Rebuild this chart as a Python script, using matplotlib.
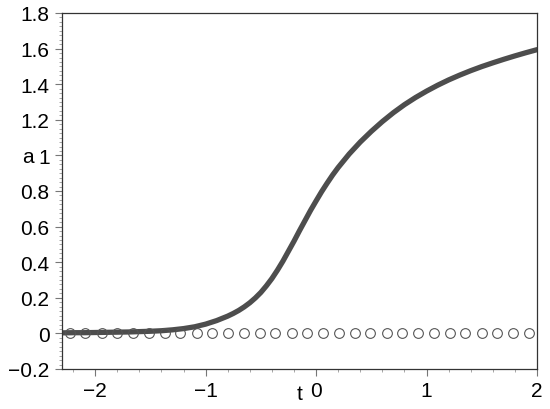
import numpy as np
import matplotlib
matplotlib.use("Agg")
from matplotlib import pyplot as plt
from matplotlib.ticker import MultipleLocator

#values
t_curve = [-2.3, -2.2, -2.1, -2.0, -1.9, -1.8, -1.7, -1.6, -1.5, -1.4, -1.3, -1.2,
           -1.1, -1.0, -0.9, -0.8, -0.75, -0.7, -0.65, -0.6, -0.55, -0.5, -0.45,
           -0.4, -0.35, -0.3, -0.25, -0.2, -0.15, -0.1, -0.05, 0.0, 0.05,
           0.1, 0.15, 0.2, 0.3, 0.4, 0.5, 0.6, 0.7, 0.8, 0.9, 1.0, 1.1, 1.2, 1.3, 1.4,
           1.5, 1.6, 1.7, 1.8, 1.9, 2.0]
a_curve = [0.003, 0.004, 0.004, 0.005, 0.006, 0.007, 0.008, 0.010, 0.012, 0.015, 0.020, 0.027,
           0.037, 0.052, 0.072, 0.097, 0.112, 0.129, 0.149, 0.172, 0.199, 0.230, 0.267,
           0.308, 0.355, 0.406, 0.462, 0.518, 0.577, 0.634, 0.691, 0.744, 0.796,
           0.844, 0.890, 0.932, 1.008, 1.075, 1.135, 1.190, 1.240, 1.285, 1.325, 1.361, 1.394, 1.424, 1.451, 1.476,
           1.499, 1.520, 1.540, 1.559, 1.577, 1.594]

#open circles sitting on a = 0
t_dots = [-2.23, -2.09, -1.94, -1.80, -1.66, -1.51, -1.37, -1.23, -1.08, -0.94,
          -0.80, -0.65, -0.51, -0.37, -0.22, -0.08, 0.06, 0.21, 0.35, 0.49,
          0.64, 0.78, 0.92, 1.07, 1.21, 1.35, 1.50, 1.64, 1.78, 1.93]
a_dots = [0.0] * len(t_dots)

plt.rcParams['font.family'] = ['Liberation Sans', 'DejaVu Sans']

fig = plt.figure(figsize=(5.5, 4.1), dpi=100)
ax = fig.add_axes([62/550, 40/410, 475/550, 356/410])

ax.plot(t_curve, a_curve, color='#4d4d4d', linewidth=3.8, solid_capstyle='round',
        solid_joinstyle='round', zorder=2)
ax.plot(t_dots, a_dots, 'o', markersize=7, markerfacecolor='none',
        markeredgecolor='#555555', markeredgewidth=0.8, zorder=3)

ax.set_xlim(-2.3, 2)
ax.set_ylim(-0.2, 1.8)
ax.xaxis.set_minor_locator(MultipleLocator(0.2))
ax.yaxis.set_minor_locator(MultipleLocator(0.025))
ax.set_yticks([-0.2, 0, 0.2, 0.4, 0.6, 0.8, 1, 1.2, 1.4, 1.6, 1.8])
ax.set_yticklabels(['\u22120.2', '0', '0.2', '0.4', '0.6', '0.8', '1', '1.2', '1.4', '1.6', '1.8'])
ax.set_xticks([-2, -1, 0, 1, 2])
ax.set_xticklabels(['\u22122', '\u22121', '0', '1', '2'])

ax.tick_params(which='major', direction='out', length=5, width=0.8, color='#777777',
               labelsize=15, pad=4)
ax.tick_params(which='minor', direction='out', length=2.5, width=0.6, color='#999999')
for s in ax.spines.values():
    s.set_color('#333333')
    s.set_linewidth(0.9)

ax.text(-0.072, 0.598, 'a', transform=ax.transAxes, ha='center', va='center', fontsize=15)
ax.text(0.500, -0.068, 't', transform=ax.transAxes, ha='center', va='center', fontsize=15)

plt.savefig('out.png', dpi=100)
